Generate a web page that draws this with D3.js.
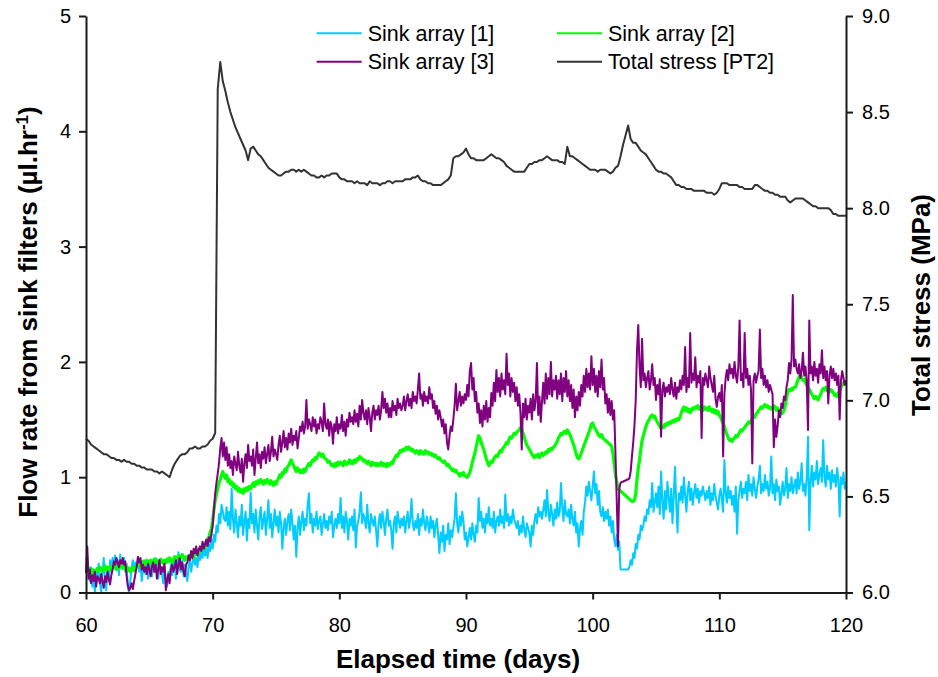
<!DOCTYPE html>
<html>
<head>
<meta charset="utf-8">
<script src="https://cdn.jsdelivr.net/npm/d3@7"></script>
<style>
  html, body { margin: 0; padding: 0; background: #fff; }
  svg { display: block; }
  text { font-family: Arial, "Liberation Sans", sans-serif; fill: #000; }
</style>
</head>
<body>
<svg id="chart" width="938" height="677"></svg>
<script>
// Flow rates (µl/hr) sampled every 0.1 day from day 60 to day 120
const flowStart = 60, flowStep = 0.1;
const sink1 = [
  0.28,0.30,0.18,0.10,0.22,0.05,0.14,0.00,0.20,0.12,
  0.25,0.08,0.00,0.16,0.30,0.12,0.02,0.22,0.10,0.28,
  0.18,0.30,0.24,0.32,0.20,0.28,0.15,0.33,0.22,0.26,
  0.30,0.18,0.25,0.05,0.00,0.10,0.22,0.28,0.20,0.26,
  0.22,0.30,0.18,0.26,0.10,0.20,0.28,0.16,0.24,0.12,
  0.20,0.28,0.14,0.25,0.18,0.30,0.22,0.12,0.26,0.20,
  0.16,0.08,0.22,0.12,0.05,0.18,0.10,0.25,0.15,0.22,
  0.30,0.12,0.26,0.35,0.20,0.18,0.28,0.14,0.24,0.16,
  0.10,0.22,0.28,0.18,0.26,0.32,0.24,0.30,0.22,0.34,
  0.28,0.36,0.30,0.40,0.32,0.38,0.30,0.42,0.36,0.46,
  0.38,0.50,0.44,0.58,0.52,0.68,0.60,0.76,0.70,0.64,
  0.62,0.74,0.58,0.70,0.55,0.90,0.64,0.52,0.72,0.60,
  0.48,0.66,0.58,0.76,0.50,0.62,0.70,0.45,0.64,0.56,
  0.87,0.60,0.68,0.52,0.72,0.58,0.46,0.66,0.74,0.55,
  0.62,0.70,0.50,0.64,0.80,0.56,0.68,0.48,0.60,0.72,
  0.58,0.66,0.52,0.70,0.60,0.38,0.56,0.64,0.50,0.62,
  0.68,0.54,0.72,0.60,0.46,0.58,0.31,0.56,0.66,0.50,
  0.62,0.70,0.54,0.64,0.58,0.76,0.86,0.60,0.68,0.52,
  0.64,0.58,0.70,0.55,0.62,0.66,0.50,0.60,0.68,0.56,
  0.62,0.54,0.66,0.60,0.70,0.48,0.58,0.64,0.56,0.68,
  0.60,0.82,0.56,0.66,0.52,0.70,0.62,0.46,0.64,0.58,
  0.66,0.54,0.72,0.39,0.58,0.62,0.70,0.87,0.60,0.68,
  0.64,0.56,0.76,0.60,0.52,0.68,0.62,0.58,0.66,0.54,
  0.40,0.60,0.68,0.56,0.70,0.62,0.50,0.64,0.72,0.58,
  0.62,0.54,0.38,0.60,0.66,0.52,0.70,0.62,0.56,0.64,
  0.58,0.66,0.52,0.62,0.70,0.56,0.64,0.81,0.60,0.54,
  0.62,0.56,0.68,0.50,0.64,0.58,0.72,0.60,0.54,0.66,
  0.60,0.52,0.66,0.56,0.62,0.48,0.58,0.64,0.50,0.34,
  0.52,0.44,0.58,0.36,0.50,0.46,0.60,0.42,0.54,0.48,
  0.56,0.64,0.86,0.60,0.52,0.66,0.58,0.70,0.62,0.46,
  0.52,0.40,0.48,0.56,0.46,0.60,0.50,0.44,0.58,0.52,
  0.82,0.62,0.70,0.56,0.64,0.52,0.68,0.60,0.74,0.58,
  0.64,0.56,0.70,0.52,0.62,0.66,0.58,0.72,0.60,0.66,
  0.56,0.85,0.62,0.68,0.58,0.66,0.60,0.72,0.64,0.60,
  0.56,0.62,0.50,0.58,0.52,0.66,0.54,0.48,0.60,0.56,
  0.52,0.40,0.58,0.50,0.62,0.68,0.60,0.74,0.66,0.70,
  0.64,0.72,0.80,0.66,0.89,0.70,0.62,0.76,0.68,0.58,
  0.72,0.64,0.78,0.66,0.70,0.95,0.74,0.62,0.80,0.68,
  0.66,0.72,0.60,0.76,0.64,0.58,0.70,0.52,0.60,0.40,
  0.56,0.62,0.50,0.70,0.78,0.92,0.84,0.96,0.88,0.80,
  0.92,1.05,0.86,0.94,0.76,0.88,0.70,0.66,0.74,0.62,
  0.70,0.64,0.72,0.58,0.66,0.52,0.62,0.46,0.40,0.50,
  0.37,0.44,0.20,0.20,0.20,0.20,0.20,0.20,0.20,0.22,
  0.28,0.24,0.34,0.30,0.42,0.38,0.50,0.46,0.58,0.54,
  0.58,0.66,0.62,0.72,0.68,0.80,0.74,0.95,0.70,0.78,
  0.86,0.74,0.92,0.68,1.05,0.80,0.64,0.88,0.72,0.96,
  0.82,0.70,0.90,0.60,0.84,1.09,0.76,0.52,0.86,0.80,
  0.92,0.78,1.00,0.84,0.70,0.88,0.96,0.80,0.90,0.76,
  0.86,0.94,0.82,0.90,0.78,0.88,0.84,0.92,0.86,0.80,
  0.88,0.82,0.92,0.76,0.86,0.80,0.94,0.84,0.78,0.72,
  0.84,0.90,0.80,0.70,1.15,0.86,0.78,0.92,0.82,0.88,
  0.76,0.84,0.70,0.92,0.51,0.80,0.88,0.96,0.82,0.90,
  0.86,0.96,0.80,1.02,0.88,0.94,0.84,1.00,0.90,0.82,
  0.92,0.98,1.10,0.86,0.94,0.88,1.02,0.90,0.96,0.84,
  0.90,1.18,0.86,0.94,0.80,0.98,0.88,0.92,0.76,0.86,
  0.96,0.84,0.90,1.08,0.82,0.94,0.88,1.00,0.86,0.92,
  0.98,0.86,1.04,0.90,0.96,1.12,0.88,0.94,0.84,1.00,
  1.35,0.54,0.96,1.10,0.92,1.04,0.98,1.14,0.94,1.02,
  1.08,0.96,1.32,1.00,0.92,1.10,0.98,1.04,0.90,1.06,
  0.96,1.02,0.92,1.08,0.98,0.66,1.00,0.94,1.04,0.90,
  0.96
];
const sink2 = [
  0.20,0.18,0.21,0.19,0.17,0.20,0.16,0.19,0.18,0.21,
  0.19,0.22,0.20,0.18,0.21,0.23,0.20,0.22,0.19,0.21,
  0.23,0.21,0.24,0.22,0.20,0.23,0.25,0.22,0.24,0.21,
  0.22,0.20,0.23,0.19,0.21,0.18,0.20,0.22,0.19,0.21,
  0.23,0.25,0.22,0.26,0.24,0.27,0.23,0.25,0.28,0.24,
  0.26,0.28,0.25,0.27,0.29,0.26,0.28,0.25,0.27,0.29,
  0.27,0.25,0.28,0.26,0.29,0.27,0.30,0.28,0.26,0.29,
  0.31,0.28,0.30,0.32,0.29,0.31,0.33,0.30,0.28,0.31,
  0.30,0.32,0.29,0.33,0.31,0.30,0.34,0.36,0.33,0.37,
  0.38,0.36,0.40,0.42,0.39,0.44,0.46,0.48,0.52,0.55,
  0.62,0.72,0.80,0.85,0.90,0.95,0.98,1.02,1.05,1.01,
  0.99,1.02,0.96,0.98,0.94,0.96,0.92,0.94,0.90,0.92,
  0.88,0.90,0.87,0.89,0.86,0.90,0.88,0.91,0.89,0.92,
  0.90,0.93,0.95,0.92,0.96,0.94,0.97,0.95,0.98,0.96,
  0.94,0.97,0.95,0.98,0.96,0.94,0.97,0.95,0.93,0.96,
  0.94,0.97,0.99,1.02,1.00,1.04,1.03,1.07,1.05,1.09,
  1.10,1.13,1.15,1.12,1.10,1.07,1.05,1.08,1.06,1.04,
  1.06,1.04,1.07,1.05,1.08,1.10,1.12,1.10,1.13,1.15,
  1.14,1.17,1.16,1.19,1.21,1.20,1.18,1.20,1.17,1.16,
  1.15,1.13,1.14,1.12,1.10,1.11,1.09,1.12,1.10,1.13,
  1.11,1.13,1.12,1.10,1.14,1.12,1.11,1.13,1.15,1.12,
  1.14,1.12,1.15,1.13,1.16,1.15,1.18,1.17,1.16,1.14,
  1.15,1.13,1.12,1.14,1.12,1.10,1.13,1.11,1.12,1.10,
  1.12,1.10,1.11,1.13,1.10,1.12,1.11,1.09,1.12,1.10,
  1.11,1.13,1.12,1.15,1.17,1.19,1.18,1.21,1.23,1.22,
  1.24,1.23,1.25,1.26,1.24,1.26,1.25,1.23,1.24,1.22,
  1.21,1.23,1.22,1.20,1.23,1.21,1.22,1.20,1.23,1.21,
  1.22,1.20,1.21,1.19,1.20,1.18,1.19,1.17,1.16,1.17,
  1.15,1.14,1.13,1.14,1.12,1.10,1.11,1.09,1.08,1.06,
  1.07,1.05,1.06,1.04,1.03,1.01,1.03,1.02,1.04,1.01,
  1.01,1.00,1.02,1.04,1.08,1.13,1.17,1.21,1.26,1.31,
  1.36,1.34,1.30,1.27,1.24,1.20,1.16,1.13,1.10,1.12,
  1.14,1.13,1.16,1.18,1.19,1.18,1.21,1.23,1.22,1.25,
  1.26,1.28,1.30,1.29,1.33,1.35,1.34,1.36,1.38,1.37,
  1.39,1.40,1.41,1.43,1.42,1.38,1.35,1.31,1.28,1.26,
  1.24,1.22,1.20,1.18,1.17,1.19,1.18,1.20,1.17,1.19,
  1.21,1.19,1.20,1.22,1.21,1.24,1.23,1.25,1.24,1.26,
  1.27,1.29,1.31,1.34,1.36,1.38,1.37,1.39,1.40,1.38,
  1.41,1.39,1.37,1.34,1.31,1.28,1.24,1.20,1.17,1.16,
  1.18,1.21,1.24,1.27,1.30,1.33,1.36,1.39,1.42,1.46,
  1.47,1.44,1.42,1.40,1.38,1.36,1.35,1.37,1.34,1.33,
  1.32,1.31,1.30,1.29,1.28,1.27,1.20,1.12,1.02,0.96,
  0.90,0.89,0.88,0.87,0.86,0.85,0.84,0.83,0.82,0.81,
  0.80,0.79,0.79,0.80,0.86,0.98,1.08,1.15,1.24,1.32,
  1.36,1.40,1.44,1.47,1.49,1.51,1.53,1.54,1.52,1.53,
  1.50,1.48,1.46,1.44,1.42,1.44,1.43,1.46,1.45,1.47,
  1.46,1.48,1.47,1.49,1.48,1.50,1.49,1.51,1.50,1.52,
  1.56,1.59,1.61,1.58,1.60,1.57,1.59,1.56,1.58,1.60,
  1.59,1.61,1.60,1.62,1.59,1.61,1.60,1.58,1.61,1.59,
  1.60,1.58,1.61,1.59,1.57,1.59,1.56,1.58,1.55,1.57,
  1.54,1.52,1.49,1.47,1.44,1.40,1.37,1.34,1.32,1.33,
  1.31,1.33,1.34,1.36,1.35,1.37,1.39,1.41,1.40,1.42,
  1.43,1.45,1.46,1.48,1.47,1.49,1.51,1.53,1.52,1.55,
  1.56,1.58,1.59,1.61,1.60,1.62,1.63,1.61,1.62,1.60,
  1.61,1.59,1.60,1.62,1.61,1.58,1.60,1.57,1.56,1.55,
  1.56,1.58,1.62,1.68,1.74,1.76,1.75,1.77,1.76,1.78,
  1.78,1.81,1.84,1.87,1.90,1.86,1.84,1.85,1.82,1.80,
  1.78,1.76,1.74,1.72,1.70,1.68,1.70,1.69,1.67,1.70,
  1.72,1.75,1.77,1.76,1.78,1.75,1.77,1.74,1.76,1.75,
  1.73,1.71,1.72,1.70,1.73,1.75,1.78,1.80,1.82,1.81,
  1.82
];
const sink3 = [
  0.17,0.40,0.12,0.20,0.08,0.15,0.10,0.18,0.05,0.14,
  0.12,0.08,0.16,0.10,0.04,0.14,0.09,0.18,0.12,0.07,
  0.15,0.20,0.27,0.24,0.30,0.26,0.22,0.28,0.25,0.30,
  0.24,0.27,0.15,0.06,0.02,0.04,0.08,0.03,0.10,0.16,
  0.22,0.31,0.26,0.30,0.20,0.24,0.18,0.22,0.16,0.25,
  0.20,0.14,0.22,0.26,0.18,0.24,0.12,0.20,0.28,0.16,
  0.22,0.18,0.25,0.02,0.10,0.16,0.08,0.20,0.24,0.18,
  0.22,0.28,0.16,0.24,0.30,0.20,0.26,0.18,0.14,0.24,
  0.26,0.32,0.28,0.36,0.30,0.38,0.34,0.40,0.32,0.37,
  0.40,0.36,0.44,0.38,0.42,0.46,0.40,0.48,0.44,0.50,
  0.58,0.72,0.86,0.95,1.03,1.12,1.25,1.34,1.18,1.30,
  1.15,1.26,1.10,1.20,1.08,1.14,1.02,1.18,1.12,1.06,
  1.22,1.10,1.04,1.16,0.96,1.12,1.20,1.08,1.28,1.14,
  1.18,1.10,1.24,1.02,1.16,1.30,1.12,1.20,1.08,1.22,
  1.16,1.26,1.12,1.20,1.28,1.14,1.22,1.35,1.18,1.24,
  1.20,1.15,1.28,1.36,1.22,1.30,1.40,1.26,1.34,1.24,
  1.38,1.30,1.42,1.28,1.36,1.32,1.40,1.25,1.34,1.44,
  1.40,1.48,1.38,1.44,1.67,1.42,1.50,1.46,1.40,1.52,
  1.44,1.50,1.38,1.46,1.42,1.52,1.48,1.40,1.64,1.46,
  1.42,1.50,1.36,1.48,1.44,1.29,1.46,1.40,1.52,1.38,
  1.46,1.42,1.54,1.40,1.48,1.36,1.50,1.44,1.56,1.48,
  1.52,1.46,1.58,1.48,1.55,1.44,1.62,1.50,1.67,1.56,
  1.50,1.58,1.46,1.60,1.52,1.40,1.56,1.62,1.50,1.58,
  1.54,1.62,1.50,1.58,1.74,1.60,1.68,1.56,1.64,1.52,
  1.60,1.52,1.66,1.58,1.62,1.54,1.68,1.60,1.64,1.58,
  1.62,1.70,1.58,1.66,1.72,1.62,1.68,1.60,1.74,1.66,
  1.70,1.64,1.76,1.90,1.68,1.72,1.62,1.74,1.66,1.70,
  1.64,1.78,1.68,1.72,1.60,1.66,1.55,1.62,1.50,1.58,
  1.52,1.44,1.50,1.38,1.46,1.30,1.24,1.36,1.44,1.40,
  1.50,1.62,1.81,1.58,1.66,1.74,1.62,1.70,1.64,1.72,
  1.67,1.80,1.70,1.92,1.99,1.76,1.86,1.66,1.74,1.56,
  1.64,1.47,1.58,1.44,1.62,1.50,1.66,1.48,1.60,1.52,
  1.73,1.62,1.82,1.66,1.93,1.74,1.86,1.70,1.90,1.76,
  1.84,1.72,2.07,1.80,1.90,1.70,1.86,1.74,1.82,1.66,
  1.78,1.62,1.72,1.56,1.24,1.64,1.52,1.68,1.50,1.62,
  1.56,1.68,1.50,1.72,1.58,1.66,1.99,1.54,1.70,1.48,
  1.66,1.82,1.64,1.90,1.68,1.86,1.72,2.00,1.70,1.84,
  1.76,1.88,1.68,1.84,1.72,1.90,1.66,1.86,1.74,1.92,
  1.70,1.84,1.66,1.80,1.60,1.76,1.52,1.70,1.58,1.74,
  1.62,1.80,1.70,1.88,1.74,1.94,1.78,1.90,1.76,2.05,
  1.80,1.94,1.74,1.88,1.70,1.92,1.78,2.02,1.76,1.86,
  1.64,1.72,1.56,1.68,1.54,1.66,1.50,1.58,1.20,0.80,
  0.40,0.90,0.95,0.96,0.96,0.97,0.97,0.98,0.98,0.99,
  1.05,1.18,1.30,1.45,1.67,2.10,2.32,1.96,1.78,2.20,
  1.84,1.90,1.78,1.86,1.92,1.76,1.84,1.98,1.80,1.86,
  1.67,1.80,1.72,1.85,1.35,1.76,1.82,1.70,1.78,1.74,
  1.80,1.72,1.86,1.76,1.70,1.82,1.68,1.78,1.74,1.84,
  1.76,1.88,1.80,2.13,1.74,1.86,1.78,2.25,1.82,1.90,
  1.84,2.04,1.78,1.88,1.82,1.92,1.34,1.86,1.80,1.90,
  1.84,1.78,1.96,1.86,1.80,1.74,1.88,1.68,1.61,1.70,
  1.73,1.66,1.80,1.18,1.72,1.86,1.93,1.84,1.98,1.90,
  1.94,1.86,2.00,1.88,1.82,1.96,2.36,1.84,1.90,1.78,
  2.25,1.86,1.94,1.80,1.88,1.76,1.12,1.84,1.90,1.82,
  1.88,1.92,2.28,1.86,1.94,1.80,1.88,1.78,1.84,1.74,
  1.80,1.76,1.72,1.26,1.50,1.35,1.44,1.58,1.52,1.64,
  1.60,1.70,1.67,1.78,1.84,1.99,1.90,2.02,2.58,1.96,
  2.02,1.94,1.90,1.98,1.86,1.92,2.08,1.88,1.96,1.82,
  1.41,2.36,1.90,1.96,1.84,2.00,1.88,1.94,1.82,1.98,
  1.90,2.10,1.86,1.96,1.84,1.92,1.64,1.88,1.96,1.86,
  1.94,1.84,1.90,1.80,1.88,1.50,1.84,1.92,1.86,1.80,
  1.84
];

// Total stress at PT2 (MPa) sampled every 0.2 day
const stressStart = 60, stressStep = 0.2;
const stressPT2 = [
  6.80,6.79,6.77,6.76,6.75,
  6.74,6.73,6.72,6.72,6.71,
  6.70,6.70,6.69,6.69,6.68,
  6.69,6.68,6.68,6.67,6.67,
  6.66,6.66,6.65,6.65,6.64,
  6.64,6.64,6.63,6.63,6.62,
  6.63,6.62,6.61,6.60,6.64,
  6.67,6.69,6.71,6.72,6.72,
  6.73,6.75,6.75,6.76,6.75,
  6.75,6.76,6.76,6.77,6.79,
  6.80,6.83,8.62,8.76,8.66,
  8.61,8.55,8.50,8.46,8.42,
  8.39,8.36,8.33,8.30,8.25,
  8.31,8.32,8.30,8.28,8.27,
  8.25,8.23,8.21,8.20,8.19,
  8.18,8.17,8.17,8.18,8.19,
  8.19,8.20,8.20,8.19,8.20,
  8.19,8.20,8.19,8.18,8.17,
  8.17,8.16,8.16,8.17,8.16,
  8.17,8.17,8.18,8.18,8.18,
  8.16,8.15,8.15,8.14,8.14,
  8.14,8.13,8.14,8.13,8.13,
  8.13,8.12,8.14,8.13,8.13,
  8.13,8.12,8.13,8.13,8.14,
  8.14,8.13,8.14,8.14,8.14,
  8.14,8.15,8.15,8.15,8.16,
  8.16,8.17,8.15,8.14,8.14,
  8.13,8.13,8.12,8.12,8.12,
  8.12,8.13,8.14,8.15,8.17,
  8.26,8.27,8.27,8.28,8.29,
  8.31,8.28,8.26,8.26,8.25,
  8.25,8.25,8.25,8.26,8.27,
  8.28,8.27,8.26,8.26,8.25,
  8.24,8.22,8.21,8.20,8.19,
  8.19,8.19,8.19,8.19,8.21,
  8.23,8.23,8.24,8.24,8.25,
  8.25,8.26,8.27,8.26,8.25,
  8.25,8.25,8.24,8.24,8.23,
  8.32,8.27,8.27,8.26,8.25,
  8.24,8.23,8.22,8.21,8.20,
  8.20,8.20,8.19,8.20,8.20,
  8.20,8.19,8.18,8.19,8.21,
  8.22,8.27,8.33,8.38,8.43,
  8.36,8.34,8.34,8.32,8.30,
  8.29,8.28,8.26,8.24,8.22,
  8.20,8.19,8.19,8.18,8.18,
  8.17,8.16,8.14,8.12,8.12,
  8.11,8.11,8.10,8.10,8.10,
  8.09,8.09,8.09,8.09,8.09,
  8.08,8.08,8.08,8.07,8.08,
  8.10,8.13,8.13,8.13,8.12,
  8.12,8.12,8.12,8.11,8.11,
  8.10,8.10,8.10,8.10,8.12,
  8.12,8.11,8.10,8.09,8.09,
  8.08,8.08,8.07,8.07,8.06,
  8.06,8.06,8.04,8.03,8.04,
  8.05,8.05,8.05,8.05,8.04,
  8.03,8.02,8.01,8.01,8.00,
  8.00,8.00,8.00,8.00,7.99,
  7.97,7.97,7.96,7.96,7.96,
  7.96
];

const seriesNames = ["Sink array [1]", "Sink array [2]", "Sink array [3]", "Total stress [PT2]"];
const seriesColors = ["#00ccff", "#00ff00", "#800080", "#333333"];
const xTickValues = [60, 70, 80, 90, 100, 110, 120];
const flowTickValues = [0, 1, 2, 3, 4, 5];
const stressTickValues = [6.0, 6.5, 7.0, 7.5, 8.0, 8.5, 9.0];

const svg = d3.select("#chart");
const plot = { left: 86, right: 846, top: 16, bottom: 592.5 };

const x = d3.scaleLinear().domain([60, 120]).range([plot.left, plot.right]);
const yFlow = d3.scaleLinear().domain([0, 5]).range([plot.bottom, plot.top]);
const yStress = d3.scaleLinear().domain([6, 9]).range([plot.bottom, plot.top]);

const toPoints = (vals, start, step) => vals.map((v, i) => [start + i * step, v]);

const flowLine = d3.line().x(d => x(d[0])).y(d => yFlow(d[1]));
const stressLine = d3.line().x(d => x(d[0])).y(d => yStress(d[1]));

// Sink array traces, then the stress trace
const dataG = svg.append("g");
[sink1, sink2, sink3].forEach((vals, i) => {
  dataG.append("path")
    .datum(toPoints(vals, flowStart, flowStep))
    .attr("d", flowLine)
    .attr("fill", "none")
    .attr("stroke", seriesColors[i])
    .attr("stroke-width", i === 1 ? 3.2 : 2)
    .attr("stroke-linejoin", "round");
});
dataG.append("path")
  .datum(toPoints(stressPT2, stressStart, stressStep))
  .attr("d", stressLine)
  .attr("fill", "none")
  .attr("stroke", seriesColors[3])
  .attr("stroke-width", 2)
  .attr("stroke-linejoin", "round");

// Axes
function styleAxis(g) {
  g.selectAll("path.domain").attr("stroke", "#1a1a1a").attr("stroke-width", 2);
  g.selectAll(".tick line").attr("stroke", "#1a1a1a").attr("stroke-width", 2);
  g.selectAll(".tick text")
    .style("font-family", "Arial, 'Liberation Sans', sans-serif")
    .style("font-size", "20px").attr("fill", "#000");
}

svg.append("g")
  .attr("transform", `translate(0,${plot.bottom})`)
  .call(d3.axisBottom(x).tickValues(xTickValues).tickSize(7).tickSizeOuter(0).tickPadding(18).tickFormat(d3.format("d")))
  .call(styleAxis);

svg.append("g")
  .attr("transform", `translate(${plot.left},0)`)
  .call(d3.axisLeft(yFlow).tickValues(flowTickValues).tickSize(7).tickSizeOuter(0).tickPadding(8).tickFormat(d3.format("d")))
  .call(styleAxis);

svg.append("g")
  .attr("transform", `translate(${plot.right},0)`)
  .call(d3.axisRight(yStress).tickValues(stressTickValues).tickSize(7).tickSizeOuter(0).tickPadding(9).tickFormat(d3.format(".1f")))
  .call(styleAxis);

// Axis titles
svg.append("text")
  .attr("x", (plot.left + plot.right) / 2 - 8)
  .attr("y", 668)
  .attr("text-anchor", "middle")
  .style("font-size", "26px").style("font-weight", "bold")
  .text("Elapsed time (days)");

const yTitle = svg.append("text")
  .attr("transform", "translate(37,312) rotate(-90)")
  .attr("text-anchor", "middle")
  .style("font-size", "26px").style("font-weight", "bold");
yTitle.append("tspan").text("Flow rate from sink filters (µl.hr");
yTitle.append("tspan").attr("dy", "-9").style("font-size", "17px").text("-1");
yTitle.append("tspan").attr("dy", "9").text(")");

svg.append("text")
  .attr("transform", "translate(930,305) rotate(-90)")
  .attr("text-anchor", "middle")
  .style("font-size", "26px").style("font-weight", "bold")
  .text("Total stress (MPa)");

// Legend: two columns, two rows
const legendCols = [316.7, 557];
const legendRows = [33.3, 61.7];
const legend = svg.append("g");
seriesNames.forEach((name, k) => {
  const cx = legendCols[k % 2], cy = legendRows[Math.floor(k / 2)];
  legend.append("line")
    .attr("x1", cx).attr("x2", cx + 45)
    .attr("y1", cy).attr("y2", cy)
    .attr("stroke", seriesColors[k]).attr("stroke-width", 2);
  legend.append("text")
    .attr("x", cx + 51).attr("y", cy + 7.5)
    .style("font-size", "21.5px")
    .text(name);
});
</script>
</body>
</html>
